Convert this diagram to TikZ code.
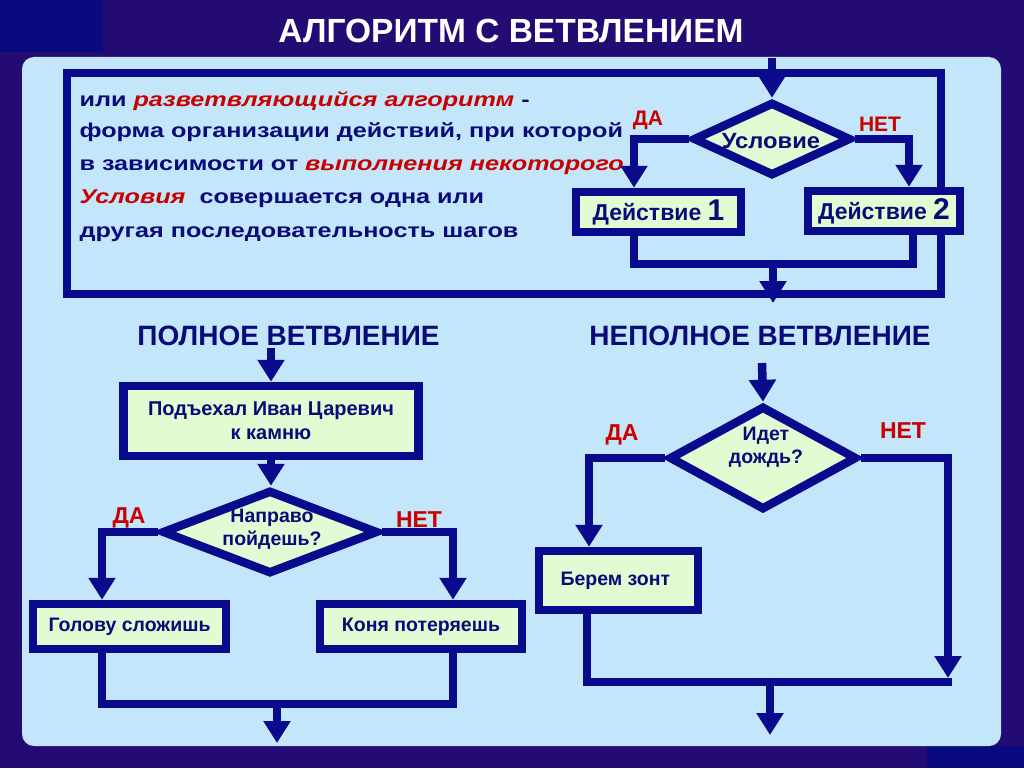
\documentclass[tikz,border=0pt]{standalone}
\usepackage{fontspec}
\setmainfont{Liberation Sans}
\newfontfamily\widef{Liberation Sans}[FakeStretch=1.26]
\newfontfamily\midf{Liberation Sans}[FakeStretch=1.08]
\usetikzlibrary{shapes.geometric,arrows.meta}
\definecolor{bgc}{RGB}{36,10,115}
\definecolor{cornerc}{RGB}{10,10,128}
\definecolor{panelc}{RGB}{196,230,250}
\definecolor{linec}{RGB}{10,10,140}
\definecolor{txtc}{RGB}{10,10,120}
\definecolor{redc}{RGB}{200,0,0}
\definecolor{boxc}{RGB}{225,252,210}
\tikzset{
  conn/.style={draw=linec, line width=8.5pt, line join=miter},
  arr/.style={conn, -{Triangle[length=22pt,width=26pt]}},
  box/.style={draw=linec, fill=boxc, line width=8.5pt, inner sep=0pt, text=txtc},
  dia/.style={draw=linec, fill=boxc, line width=8.5pt, diamond, inner sep=0pt},
  lbl/.style={text=redc, anchor=base, font=\fontsize{21}{24}\selectfont\bfseries},
  lblb/.style={text=redc, anchor=base, font=\fontsize{23}{26}\selectfont\bfseries},
  btxt/.style={text=txtc, anchor=base, font=\fontsize{19.5}{23}\selectfont\bfseries},
  head/.style={text=txtc, anchor=base, font=\fontsize{28}{32}\selectfont\bfseries},
  body/.style={text=txtc, anchor=base west, font=\widef\fontsize{20}{24}\selectfont\bfseries},
}
\begin{document}
\begin{tikzpicture}[x=1pt,y=-1pt]
\useasboundingbox (0,0) rectangle (1024,768);
% background
\fill[bgc] (0,0) rectangle (1024,768);
\fill[cornerc] (0,0) rectangle (103,52);
\fill[cornerc] (927,746) rectangle (1024,768);
\fill[panelc, rounded corners=12pt] (22,57) rectangle (1001,746);
% title
\node[anchor=base, text=white, font=\fontsize{33.5}{36}\selectfont\bfseries] (title) at (511,43) {АЛГОРИТМ С ВЕТВЛЕНИЕМ};
% top frame
\node[draw=linec, line width=8pt, minimum width=874pt, minimum height=221pt, inner sep=0pt] (frame) at (504,183.5) {};
% top text
\node[body] (l1) at (76,106) {или \textcolor{redc}{\itshape разветвляющийся алгоритм} -};
\node[body] (l2) at (76,137) {форма организации действий, при которой};
\node[body] (l3) at (76,170) {в зависимости от \textcolor{redc}{\itshape выполнения некоторого}};
\node[body] (l4) at (76,203) {\textcolor{redc}{\itshape Условия}\ \ совершается одна или};
\node[body] (l5) at (76,237) {другая последовательность шагов};
% top diagram
\coordinate (s0) at (772,58);
\node[dia, minimum width=158pt, minimum height=74pt] (c) at (772,139) {};
\node[text=txtc, anchor=base, font=\midf\fontsize{22}{26}\selectfont\bfseries] (ct) at (771,148) {Условие};
\node[box, minimum width=165pt, minimum height=40pt, font=\fontsize{23}{26}\selectfont\bfseries] (b1) at (658.5,212) {Действие {\fontsize{30}{30}\selectfont 1}};
\node[box, minimum width=152pt, minimum height=40pt, font=\fontsize{23}{26}\selectfont\bfseries] (b2) at (884,211) {Действие {\fontsize{30}{30}\selectfont 2}};
\coordinate (j1) at (773,264);
\coordinate (t1) at (773,303);
\draw[arr] (s0) -- (c.north);
\draw[arr] (c.west) -| ([xshift=-24.5pt]b1.north);
\draw[arr] (c.east) -| ([xshift=25pt]b2.north);
\draw[conn] ([xshift=-24.5pt]b1.south) |- (j1) -| ([xshift=29pt]b2.south);
\draw[arr] (j1) -- (t1);
\node[lbl] (da0) at (648,125) {ДА};
\node[lbl] (net0) at (880,131) {НЕТ};
% headings
\node[head] (h1) at (288.5,345) {ПОЛНОЕ ВЕТВЛЕНИЕ};
\node[head] (h2) at (760,345) {НЕПОЛНОЕ ВЕТВЛЕНИЕ};
% full branching
\coordinate (s1) at (271,348);
\node[box, minimum width=295pt, minimum height=70pt, align=center, font=\fontsize{20}{24}\selectfont\bfseries] (p1) at (271,421) {Подъехал Иван Царевич\\к камню};
\node[dia, minimum width=216pt, minimum height=84pt] (d1) at (270,532) {};
\node[btxt] (d1a) at (272,522) {Направо};
\node[btxt] (d1b) at (272,545) {пойдешь?};
\node[box, minimum width=193pt, minimum height=45pt, font=\fontsize{19.5}{23}\selectfont\bfseries] (g1) at (129.5,626.5) {Голову сложишь};
\node[box, minimum width=202pt, minimum height=45pt, font=\fontsize{19.5}{23}\selectfont\bfseries] (k1) at (421,626.5) {Коня потеряешь};
\coordinate (j2) at (277,704);
\coordinate (t2) at (277,743);
\draw[arr] (s1) -- (p1.north);
\draw[arr] (p1.south) -- ([xshift=1pt]d1.north);
\draw[arr] (d1.west) -| ([xshift=-27.5pt]g1.north);
\draw[arr] (d1.east) -| ([xshift=32pt]k1.north);
\draw[conn] ([xshift=-27.5pt]g1.south) |- (j2) -| ([xshift=32pt]k1.south);
\draw[arr] (j2) -- (t2);
\node[lblb] (da1) at (129,523) {ДА};
\node[lblb] (net1) at (419,527) {НЕТ};
% partial branching
\coordinate (s2) at (762,363);
\node[dia, minimum width=188pt, minimum height=104pt] (d2) at (763,458) {};
\node[btxt] (d2a) at (766,440) {Идет};
\node[btxt] (d2b) at (766,463) {дождь?};
\node[box, minimum width=159pt, minimum height=59pt] (z) at (618.5,580.5) {};
\node[btxt, anchor=base west] (zt) at (557,585) {Берем зонт};
\coordinate (t3) at (948,678);
\coordinate (j3) at (770,682);
\coordinate (j3e) at (952,682);
\coordinate (t4) at (770,735);
\draw[arr] (s2) -- (d2.north);
\draw[arr] (d2.west) -| ([xshift=-29.5pt]z.north);
\draw[arr] (d2.east) -| (t3);
\draw[conn] ([xshift=-31.5pt]z.south) |- (j3e);
\draw[arr] (j3) -- (t4);
\node[lblb] (da2) at (622,440) {ДА};
\node[lblb] (net2) at (903,438) {НЕТ};
\end{tikzpicture}
\end{document}
